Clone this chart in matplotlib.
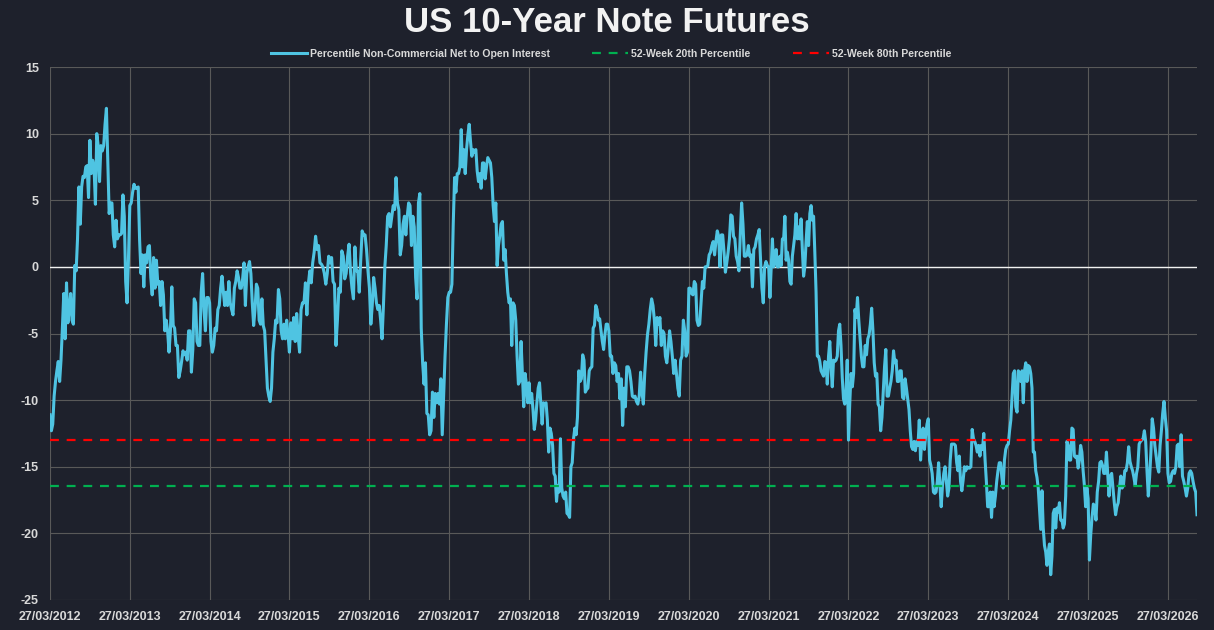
import numpy as np
import pandas as pd
import matplotlib
matplotlib.use("Agg")
import matplotlib.pyplot as plt
import matplotlib.dates as mdates

# readings, one list per year (each year starts 27/03)
v2012 = [-11.1, -12.3, -11.8, -9.7, -8.6, -7.8, -7.1, -8.6, -7.0, -4.6, -2.0, -5.4, -1.2, -4.2, -3.2, -2.0,
         -4.0, -4.3, 0.1, -0.3, 2.1, 6.0, 3.2, 6.0, 6.8, 6.7, 7.5, 7.6, 5.2, 9.5, 7.0, 8.0, 7.5, 4.7, 10.0,
         9.1, 6.4, 9.1, 8.7, 9.1, 10.7, 11.9, 8.0, 4.0, 4.8, 4.8, 2.4, 1.5, 3.5, 2.1, 2.4, 2.4, 2.5, 5.4,
         3.8, -1.1, -2.7, 0.5]
v2013 = [4.6, 4.8, 5.6, 6.2, 5.9, 5.9, 6.0, 2.0, -0.5, 0.9, -1.5, 0.9, 0.3, 1.5, 1.6, -0.8, -2.1, 0.7, -1.6,
         0.5, -1.3, -1.1, -2.9, -1.1, -2.1, -4.8, -4.0, -4.8, -6.4, -4.8, -1.5, -4.4, -4.6, -5.9, -5.9, -8.3,
         -7.8, -7.1, -6.3, -6.6, -6.4, -7.0, -4.8, -4.8, -7.9, -6.2, -2.4, -2.7, -5.6, -5.9, -5.9, -1.9,
         -0.5, -3.2, -4.8, -2.3, -2.3]
v2014 = [-2.7, -5.6, -6.4, -5.9, -4.6, -4.8, -3.2, -2.9, -1.6, -0.7, -1.9, -2.9, -1.9, -2.9, -1.1, -2.7,
         -3.2, -3.6, -1.6, -1.1, -0.3, -0.8, -1.6, -1.6, -0.9, 0.3, -2.9, -0.5, 0.0, 0.4, -0.5, -2.7, -4.4,
         -3.2, -1.3, -1.6, -4.0, -4.3, -2.4, -4.4, -4.8, -7.0, -9.1, -9.7, -10.1, -9.1, -6.4, -5.4, -4.0,
         -4.2, -1.7, -2.4, -4.8, -5.4, -4.3, -5.4, -4.0, -5.1]
v2015 = [-6.4, -4.2, -5.4, -3.8, -5.6, -3.5, -5.2, -6.4, -3.2, -2.7, -2.7, -1.2, -3.6, -1.3, -0.3, -1.2,
         0.3, 1.1, 2.3, 1.3, 1.6, 0.3, 0.2, 0.0, -0.5, -1.3, -0.5, 0.8, 0.3, 0.7, -1.1, -1.3, -5.9, -4.0,
         -1.6, -1.9, 1.2, 0.8, -0.9, -0.5, 0.8, 1.7, -0.4, -1.6, -2.4, 1.5, -0.3, -0.3, -1.9, 0.5, 2.7, 2.4,
         2.4, 1.3, -0.3]
v2016 = [-1.6, -4.3, -2.9, -0.8, -1.6, -2.7, -3.2, -2.9, -4.0, -5.4, -2.9, 0.0, 1.6, 3.8, 4.0, 3.0, 3.8,
         4.6, 4.3, 6.7, 4.8, 4.3, 0.9, 1.6, 3.2, 3.8, 2.4, 3.8, 4.8, 4.6, 1.6, 3.8, 3.0, -0.8, -2.4, 4.8,
         5.5, -4.6, -7.2, -8.8, -7.2, -11.0, -11.1, -12.6, -12.3, -9.4, -11.3, -9.5, -10.2, -9.5, -10.3,
         -8.4, -12.6, -9.7, -6.7, -4.3, -2.3]
v2017 = [-1.9, -1.9, -1.3, 3.2, 6.7, 5.6, 7.0, 7.0, 7.5, 10.3, 7.5, 8.8, 7.0, 8.8, 9.9, 10.7, 9.4, 8.3, 8.8,
         8.6, 8.8, 7.2, 6.4, 7.0, 5.9, 7.8, 7.8, 6.6, 7.5, 8.2, 8.0, 7.8, 6.7, 4.6, 3.4, 4.8, 0.1, 1.6, 2.3,
         3.2, 3.4, 0.5, 1.3, -0.5, -1.9, -2.7, -2.4, -5.9, -2.7, -2.9, -4.0, -6.7, -8.8, -8.6, -5.6, -8.0,
         -10.5, -8.0, -8.8, -10.2]
v2018 = [-8.7, -10.2, -9.5, -10.7, -12.2, -11.5, -10.2, -9.1, -8.7, -10.2, -11.8, -10.2, -10.3, -10.2,
         -11.5, -13.9, -12.1, -12.5, -13.4, -15.5, -15.7, -17.6, -16.4, -16.9, -12.9, -16.6, -17.2, -17.4,
         -16.9, -18.5, -18.6, -18.8, -15.0, -14.7, -12.9, -12.1, -12.6, -11.3, -7.8, -8.6, -8.4, -6.6, -7.0,
         -9.4, -9.2, -9.1, -7.8, -7.6, -7.5, -4.6, -4.4, -2.9, -3.2, -4.0, -3.9, -4.8, -5.6, -6.2, -5.1,
         -4.3, -4.3]
v2019 = [-4.8, -6.7, -6.7, -8.0, -7.2, -7.4, -8.6, -8.0, -9.9, -8.4, -11.9, -9.1, -10.5, -7.5, -7.5, -7.8,
         -8.6, -9.7, -9.8, -9.7, -10.1, -10.3, -9.7, -7.9, -9.4, -10.3, -8.0, -6.4, -5.1, -4.3, -3.2, -2.4,
         -2.9, -4.0, -5.9, -3.8, -4.3, -3.8, -5.9, -4.8, -5.0, -6.7, -7.2, -6.2, -4.8, -5.6, -6.7, -8.0,
         -7.0, -8.0, -9.1, -9.7, -7.0, -6.7, -4.0, -4.8, -6.7, -6.4]
v2020 = [-1.6, -1.6, -2.0, -2.1, -1.1, -1.3, -4.0, -4.4, -4.3, -2.7, -1.1, -1.6, 0.0, 0.0, 0.1, 0.9, 1.1,
         1.6, 1.9, 0.9, 1.9, 2.7, 2.3, 0.0, 2.4, 2.4, 1.1, -0.4, 0.3, 1.1, 2.1, 3.9, 3.8, 2.3, 2.1, 0.8,
         0.4, -0.3, 2.4, 4.8, 3.2, 0.8, 0.8, 0.9, 1.6, 0.8, 0.9, -1.5, 1.3, 1.5, 2.1, 2.4, 2.8, 0.5, -1.6,
         -2.7, 0.0, 0.4, 0.1]
v2021 = [0.0, -2.3, 0.0, 2.1, 0.0, 0.5, 1.3, 0.0, 0.0, 0.8, 0.1, 2.1, 2.1, 3.8, 0.5, 1.1, 0.5, -1.1, -1.3,
         0.8, 1.6, 2.4, 4.0, 2.1, 3.0, 2.1, 3.6, 1.3, -0.7, 0.0, 1.9, 3.4, 1.6, 4.0, 4.6, 3.5, 3.8, 1.1,
         -1.9, -6.7, -6.7, -7.1, -7.8, -8.0, -8.2, -7.1, -7.2, -8.8, -6.7, -5.6, -7.5, -9.0, -7.0, -7.1,
         -7.0, -6.7, -4.8, -4.3, -5.9, -8.3, -9.9, -10.3, -9.4, -7.0]
v2022 = [-13.0, -10.2, -8.0, -9.0, -8.0, -3.2, -3.8, -2.3, -4.0, -5.4, -6.7, -7.5, -7.5, -5.9, -6.6, -5.4,
         -5.1, -4.3, -3.1, -4.8, -7.2, -8.2, -8.0, -10.3, -10.5, -12.3, -11.3, -9.4, -7.5, -6.2, -9.7, -9.7,
         -9.1, -8.6, -7.8, -6.3, -7.2, -7.0, -8.6, -8.6, -7.8, -7.8, -9.8, -9.9, -8.4, -9.1, -9.9, -10.7,
         -12.3, -13.5, -13.7, -13.1, -13.8, -13.1, -13.4, -11.5, -14.5, -12.9, -12.1, -13.7, -12.6, -11.8]
v2023 = [-11.4, -14.5, -14.9, -15.5, -16.9, -17.0, -16.9, -16.1, -14.7, -16.4, -18.0, -16.4, -15.5, -15.0,
         -16.1, -17.2, -16.6, -14.5, -13.3, -13.3, -13.3, -13.4, -14.7, -15.3, -14.2, -16.1, -16.8, -16.0,
         -15.0, -15.3, -15.0, -15.1, -15.1, -15.0, -12.2, -12.9, -13.1, -13.4, -13.9, -13.4, -14.2, -13.4,
         -13.7, -12.5, -14.5, -16.1, -18.0, -18.0, -16.9, -18.8, -16.9, -18.0, -17.2, -16.1, -15.3, -14.7,
         -14.7, -15.8, -16.6, -14.5, -13.7, -13.4]
v2024 = [-13.3, -12.3, -11.5, -9.7, -8.0, -7.8, -10.5, -10.9, -7.8, -8.0, -8.6, -7.8, -10.2, -7.8, -7.2,
         -8.6, -7.4, -7.5, -8.0, -9.1, -13.9, -13.9, -15.3, -15.8, -16.6, -18.2, -19.7, -16.8, -19.6, -20.9,
         -21.4, -22.4, -21.4, -20.8, -23.1, -21.7, -18.5, -18.2, -19.6, -18.1, -18.4, -17.7, -19.0, -19.0,
         -19.6, -19.3, -17.2, -13.1, -13.4, -14.5, -14.5, -12.1, -12.2, -14.2, -14.3, -14.2, -15.1, -14.5,
         -13.4, -13.9, -15.3, -16.4, -18.0, -16.6]
v2025 = [-17.4, -22.0, -20.1, -18.8, -17.8, -18.0, -19.0, -16.9, -16.1, -14.7, -14.6, -14.9, -15.5, -15.5,
         -13.9, -15.5, -17.2, -15.7, -15.5, -16.6, -17.7, -18.6, -18.0, -17.7, -16.6, -15.7, -16.6, -16.4,
         -15.3, -15.3, -14.7, -13.5, -14.6, -15.0, -15.3, -15.8, -16.4, -15.5, -15.0, -13.3, -13.1, -13.0,
         -12.9, -12.3, -13.1, -15.3, -17.2, -15.8, -13.9, -11.4, -12.1, -13.4, -14.2, -15.0, -15.4, -13.4,
         -12.3, -11.0, -10.1, -11.3, -12.3]
v2026 = [-15.5, -16.2, -16.1, -15.5, -15.3, -15.5, -15.0, -13.4, -13.3, -15.0, -12.6, -15.7, -16.1, -16.6,
         -17.2, -16.6, -15.5, -15.3, -15.5, -16.1, -16.6, -16.9, -18.6]

years = list(range(2012, 2027))
yearly = [v2012, v2013, v2014, v2015, v2016, v2017, v2018, v2019, v2020,
          v2021, v2022, v2023, v2024, v2025, v2026]
last_date = "2026-08-07"

pct20 = -16.45
pct80 = -13.0

series_label = "Percentile Non-Commercial Net to Open Interest"
p20_label = "52-Week 20th Percentile"
p80_label = "52-Week 80th Percentile"
title = "US 10-Year Note Futures"

# spread each year's readings evenly over that year
dates, values = [], []
for y, vals in zip(years, yearly):
    start = pd.Timestamp(f"{y}-03-27")
    if y < years[-1]:
        step = (pd.Timestamp(f"{y + 1}-03-27") - start) / len(vals)
    else:
        step = (pd.Timestamp(last_date) - start) / (len(vals) - 1)
    dates += [start + step * i for i in range(len(vals))]
    values += vals

tick_dates = [pd.Timestamp(f"{y}-03-27") for y in years]

BG = "#1e212c"
TXT = "#d9d9d9"
plt.rcParams["font.family"] = ["Liberation Sans", "DejaVu Sans"]
plt.rcParams["axes.unicode_minus"] = False

fig = plt.figure(figsize=(12.14, 6.30), dpi=100, facecolor=BG)
ax = fig.add_axes([50 / 1214, 30 / 630, 1147 / 1214, 533 / 630])
ax.set_facecolor(BG)

ax.plot(dates, values, color="#4fc4e2", lw=2.2, label=series_label, zorder=3,
        solid_joinstyle="round")
ax.axhline(pct20, color="#00b050", lw=1.6, dashes=(4, 3.5), label=p20_label, zorder=4)
ax.axhline(pct80, color="#ff0000", lw=1.6, dashes=(4, 3.5), label=p80_label, zorder=4)
ax.axhline(0, color="#f2f2f2", lw=1.0, zorder=2)

ax.set_ylim(-25, 15)
ax.set_yticks(range(-25, 16, 5))
ax.set_xlim(pd.Timestamp("2012-03-27"), pd.Timestamp(last_date))
ax.set_xticks(tick_dates)
ax.xaxis.set_major_formatter(mdates.DateFormatter("%d/%m/%Y"))

ax.grid(True, color="#595959", lw=0.8)
ax.set_axisbelow(True)
for s in ax.spines.values():
    s.set_visible(False)
ax.tick_params(axis="x", length=0, colors=TXT, labelsize=9, pad=8)
ax.tick_params(axis="y", length=0, colors=TXT, labelsize=9, pad=8)
for lbl in ax.get_xticklabels() + ax.get_yticklabels():
    lbl.set_fontweight("bold")

fig.text(0.5, 1 - 22 / 630, title, ha="center", va="center", color="#f2f2f2",
         fontsize=25, fontweight="bold")

leg = fig.legend(loc="center", bbox_to_anchor=(611 / 1214, 1 - 54 / 630), ncol=3,
                 frameon=False, handlelength=3.4, handletextpad=0.3, columnspacing=4.0,
                 prop={"weight": "bold", "size": 7.6})
for t in leg.get_texts():
    t.set_color(TXT)

fig.savefig("out.png", dpi=100, facecolor=BG)
